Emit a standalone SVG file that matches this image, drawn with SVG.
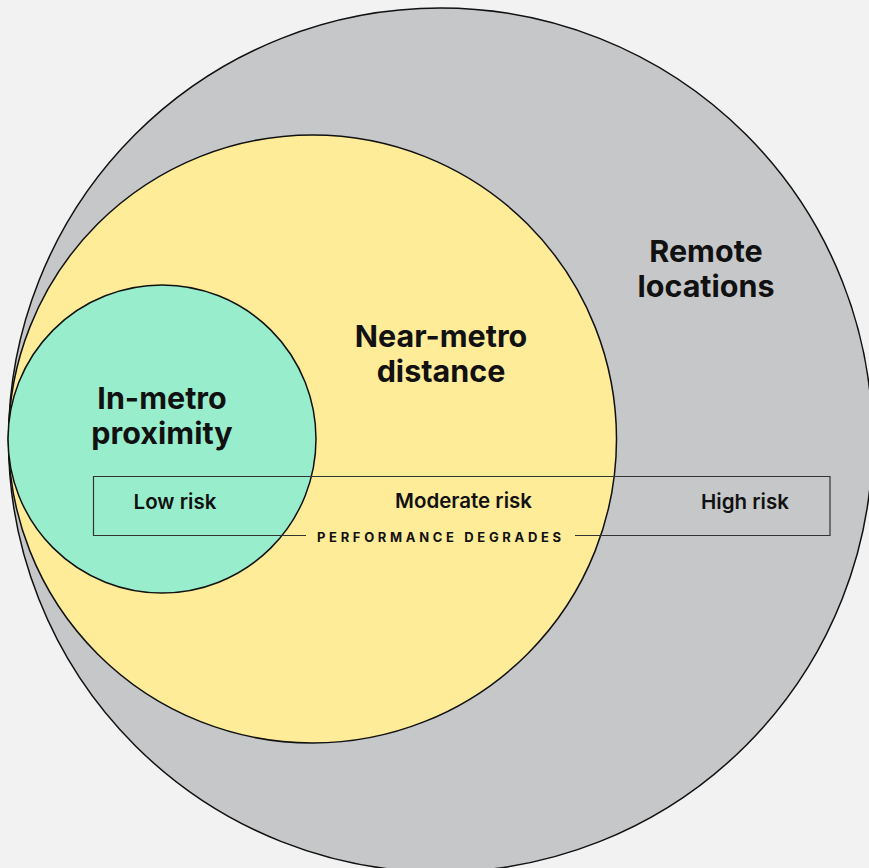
<svg xmlns="http://www.w3.org/2000/svg" width="869" height="868" viewBox="0 0 869 868">
  <style>
    .zone { stroke: #111; stroke-width: 1.5; }
    .title { font-family: Inter, "Liberation Sans", sans-serif; font-weight: 700; font-size: 30.5px; fill: #111; text-anchor: middle; }
    .risk { font-family: Inter, "Liberation Sans", sans-serif; font-weight: 600; font-size: 20.5px; fill: #111; text-anchor: middle; }
    .caption { font-family: Inter, "Liberation Sans", sans-serif; font-weight: 700; font-size: 13px; fill: #111; text-anchor: middle; letter-spacing: 3px; }
    .band { fill: none; stroke: #333; stroke-width: 1.2; }
  </style>
  <rect width="869" height="868" fill="#f2f2f2"/>

  <!-- outermost zone -->
  <g id="remote">
    <circle class="zone" cx="440.5" cy="440" r="432" fill="#c6c7c9"/>
    <text class="title" x="706" y="262">Remote</text>
    <text class="title" x="706" y="297">locations</text>
  </g>

  <!-- middle zone -->
  <g id="near-metro">
    <circle class="zone" cx="312.5" cy="439" r="304" fill="#ffec99"/>
    <text class="title" x="441" y="347">Near-metro</text>
    <text class="title" x="441" y="382">distance</text>
  </g>

  <!-- inner zone -->
  <g id="in-metro">
    <circle class="zone" cx="162" cy="439" r="154" fill="#98eecc"/>
    <text class="title" x="162" y="409">In-metro</text>
    <text class="title" x="162" y="444">proximity</text>
  </g>

  <!-- risk band across the zones -->
  <g id="connectors">
    <path class="band" d="M306 535.5 H93.5 V476.5 H830 V535.5 H575"/>
  </g>
  <g id="risk-labels">
    <text class="risk" x="175" y="509">Low risk</text>
    <text class="risk" x="463.5" y="508">Moderate risk</text>
    <text class="risk" x="745" y="509">High risk</text>
    <text class="caption" x="440.5" y="542" textLength="247" lengthAdjust="spacing">PERFORMANCE DEGRADES</text>
  </g>
</svg>
